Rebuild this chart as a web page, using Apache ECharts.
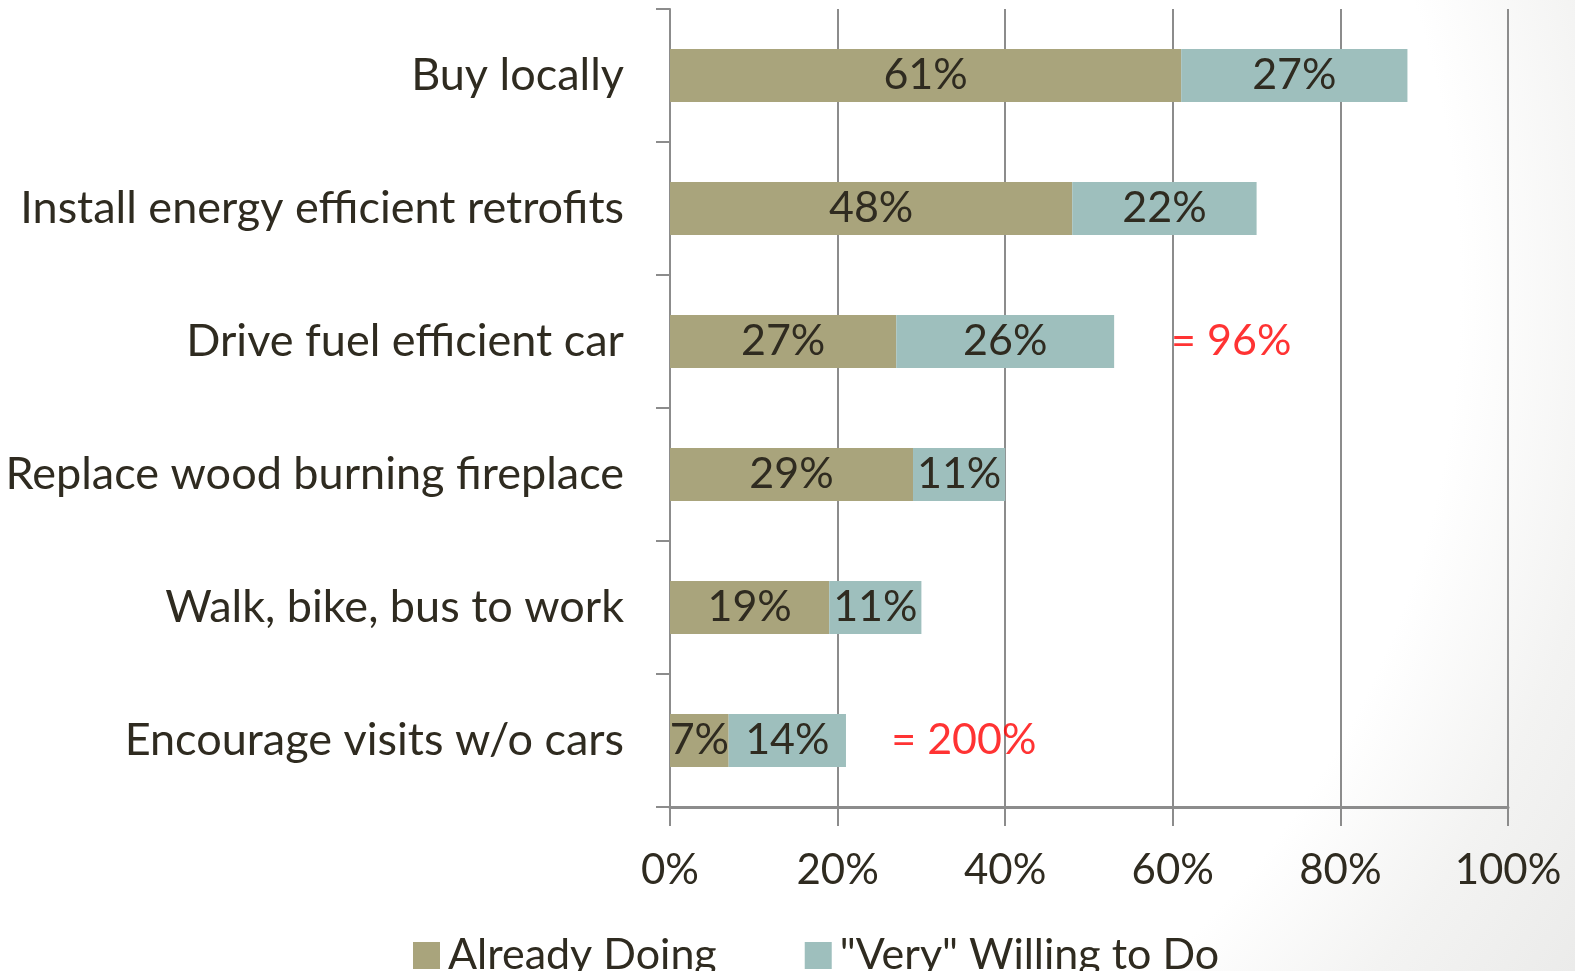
<!DOCTYPE html>
<html>
<head>
<meta charset="utf-8">
<script src="https://cdn.jsdelivr.net/npm/echarts@6/dist/echarts.min.js"></script>
<style>
  html, body { margin: 0; padding: 0; background: #fff; }
  #chart { width: 1575px; height: 971px; }
</style>
</head>
<body>
<div id="chart"></div>
<script>
const categories = [
  "Buy locally",
  "Install energy efficient retrofits",
  "Drive fuel efficient car",
  "Replace wood burning fireplace",
  "Walk, bike, bus to work",
  "Encourage visits w/o cars",
];
const alreadyDoing = [61, 48, 27, 29, 19, 7];
const veryWilling = [27, 22, 26, 11, 11, 14];
const notes = [
  ["Drive fuel efficient car", 59.8, "= 96%"],
  ["Encourage visits w/o cars", 26.4, "= 200%"],
];

const font = "Lato, 'Open Sans', sans-serif";
const textColor = "#2f2b20";

const chart = echarts.init(document.getElementById("chart"));

const option = {
  // faint grey vignette towards the bottom right
  backgroundColor: {
    type: "radial",
    global: true,
    x: 550,
    y: 290,
    r: 1230,
    colorStops: [
      { offset: 0, color: "#ffffff" },
      { offset: 0.74, color: "#ffffff" },
      { offset: 0.87, color: "#f3f3f2" },
      { offset: 1, color: "#ebebea" },
    ],
  },
  textStyle: { fontFamily: font },
  animation: false,
  grid: { left: 670, right: 67, top: 9, bottom: 164, outerBoundsMode: "none" },
  legend: {
    left: 408,
    top: 929,
    itemWidth: 27,
    itemHeight: 27,
    itemGap: 88,
    icon: "rect",
    data: ["Already Doing", '"Very" Willing to Do'],
    textStyle: { fontSize: 43, color: textColor, fontFamily: font, padding: [0, 0, 0, 3] },
  },
  xAxis: {
    type: "value",
    min: 0,
    max: 100,
    interval: 20,
    axisLine: { show: true, lineStyle: { color: "#8c8c8c", width: 3 } },
    axisTick: { show: true, length: 19, lineStyle: { color: "#8c8c8c", width: 2 } },
    splitLine: { show: true, lineStyle: { color: "#8c8c8c", width: 2 } },
    axisLabel: {
      formatter: "{value}%",
      fontSize: 42,
      color: textColor,
      margin: 42,
      fontFamily: font,
    },
  },
  yAxis: {
    type: "category",
    data: categories,
    inverse: true,
    axisLine: { show: true, lineStyle: { color: "#8c8c8c", width: 2 } },
    axisTick: { show: true, length: 14, lineStyle: { color: "#8c8c8c", width: 2 } },
    axisLabel: { fontSize: 45, color: textColor, margin: 46, fontFamily: font },
  },
  series: [
    {
      name: "Already Doing",
      type: "bar",
      stack: "total",
      data: alreadyDoing,
      barCategoryGap: "60%",
      itemStyle: { color: "#a9a47c" },
      label: {
        show: true,
        position: "inside",
        formatter: "{c}%",
        fontSize: 43,
        color: textColor,
        fontFamily: font,
      },
    },
    {
      name: '"Very" Willing to Do',
      type: "bar",
      stack: "total",
      data: veryWilling,
      itemStyle: { color: "#9ebfbd" },
      label: {
        show: true,
        position: "inside",
        formatter: "{c}%",
        fontSize: 43,
        color: textColor,
        fontFamily: font,
      },
    },
    {
      name: "notes",
      type: "scatter",
      symbolSize: 0,
      data: notes.map((n) => ({ value: [n[1], n[0]], note: n[2] })),
      label: {
        show: true,
        position: "right",
        distance: 0,
        formatter: (p) => p.data.note,
        fontSize: 43,
        color: "#ff0000",
        fontFamily: font,
      },
    },
  ],
};

chart.setOption(option);
</script>
</body>
</html>
